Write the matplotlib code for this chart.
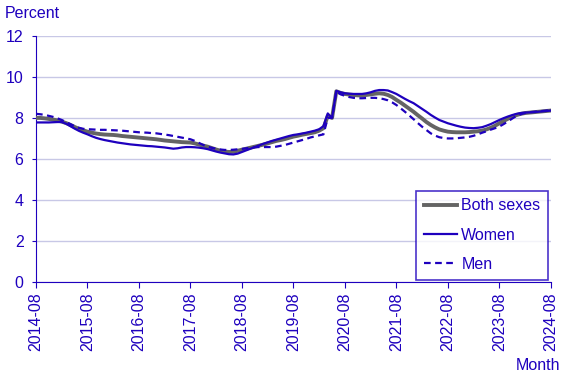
import numpy as np
import matplotlib.pyplot as plt

# monthly values 2014-08 .. 2024-08
both = [8.00, 8.00, 7.98, 7.95, 7.92, 7.88, 7.82, 7.75, 7.66, 7.56, 7.47, 7.40,
        7.33, 7.28, 7.24, 7.21, 7.19, 7.18, 7.17, 7.15, 7.12, 7.10, 7.08, 7.06,
        7.04, 7.02, 7.00, 6.98, 6.96, 6.93, 6.90, 6.88, 6.86, 6.84, 6.82, 6.81,
        6.80, 6.76, 6.70, 6.65, 6.60, 6.53, 6.46, 6.40, 6.36, 6.34, 6.35, 6.40,
        6.45, 6.50, 6.55, 6.60, 6.65, 6.70, 6.76, 6.82, 6.88, 6.92, 6.97, 7.03,
        7.09, 7.13, 7.18, 7.22, 7.26, 7.30, 7.38, 7.50, 8.10, 8.00, 9.30, 9.22,
        9.17, 9.14, 9.12, 9.10, 9.10, 9.12, 9.15, 9.18, 9.20, 9.18, 9.12, 9.02,
        8.88, 8.75, 8.60, 8.45, 8.30, 8.13, 7.97, 7.80, 7.66, 7.54, 7.44, 7.38,
        7.33, 7.31, 7.30, 7.30, 7.30, 7.31, 7.33, 7.35, 7.38, 7.44, 7.52, 7.62,
        7.74, 7.85, 7.96, 8.06, 8.14, 8.20, 8.24, 8.26, 8.28, 8.30, 8.32, 8.34,
        8.36]
women = [7.78, 7.78, 7.78, 7.78, 7.79, 7.80, 7.80, 7.72, 7.60, 7.48, 7.37, 7.28,
         7.20, 7.11, 7.03, 6.97, 6.92, 6.88, 6.84, 6.80, 6.77, 6.74, 6.71, 6.69,
         6.67, 6.65, 6.63, 6.62, 6.60, 6.58, 6.56, 6.53, 6.50, 6.52, 6.56, 6.58,
         6.58, 6.57, 6.55, 6.52, 6.48, 6.42, 6.36, 6.31, 6.27, 6.23, 6.22, 6.26,
         6.34, 6.42, 6.50, 6.58, 6.66, 6.74, 6.81, 6.88, 6.94, 7.00, 7.06, 7.12,
         7.17, 7.20, 7.24, 7.28, 7.33, 7.38, 7.45, 7.60, 8.22, 8.00, 9.32, 9.25,
         9.20, 9.18, 9.17, 9.17, 9.17, 9.20, 9.25, 9.32, 9.36, 9.36, 9.34, 9.26,
         9.17, 9.05, 8.93, 8.82, 8.72, 8.58, 8.44, 8.30, 8.15, 8.02, 7.90, 7.82,
         7.74, 7.68, 7.62, 7.57, 7.53, 7.51, 7.50, 7.52, 7.55, 7.62, 7.70, 7.80,
         7.90, 7.99, 8.07, 8.14, 8.20, 8.24, 8.26, 8.27, 8.28, 8.30, 8.32, 8.34,
         8.36]
men = [8.20, 8.18, 8.15, 8.10, 8.05, 7.98, 7.90, 7.80, 7.70, 7.60, 7.52, 7.47,
       7.45, 7.44, 7.43, 7.42, 7.42, 7.41, 7.40, 7.39, 7.38, 7.36, 7.34, 7.32,
       7.30, 7.29, 7.28, 7.26, 7.25, 7.22, 7.19, 7.16, 7.12, 7.08, 7.04, 7.00,
       6.96, 6.88, 6.78, 6.68, 6.60, 6.54, 6.50, 6.46, 6.44, 6.44, 6.45, 6.47,
       6.49, 6.52, 6.55, 6.57, 6.58, 6.58, 6.58, 6.58, 6.60, 6.64, 6.68, 6.74,
       6.80, 6.86, 6.92, 6.98, 7.05, 7.10, 7.15, 7.20, 8.00, 8.00, 9.28, 9.15,
       9.08, 9.02, 8.98, 8.96, 8.96, 8.97, 8.98, 8.98, 8.96, 8.92, 8.86, 8.76,
       8.63, 8.47, 8.30, 8.12, 7.94, 7.75, 7.57, 7.41, 7.25, 7.14, 7.06, 7.02,
       7.00, 7.00, 7.01, 7.03, 7.05, 7.08, 7.13, 7.20, 7.28, 7.35, 7.43, 7.50,
       7.58, 7.70, 7.83, 7.97, 8.10, 8.18, 8.24, 8.28, 8.30, 8.32, 8.34, 8.36,
       8.38]
tick_labels = ["2014-08", "2015-08", "2016-08", "2017-08", "2018-08", "2019-08",
               "2020-08", "2021-08", "2022-08", "2023-08", "2024-08"]

blue = "#1e00be"
plt.rcParams["font.family"] = ["Liberation Sans", "DejaVu Sans"]
fs = 11.5

fig = plt.figure(figsize=(5.67, 3.78), dpi=100)
ax = fig.add_axes([0.0635, 0.254, 0.908, 0.651])

x = np.arange(len(both))
ax.plot(x, both, color="#646464", lw=2.8, label="Both sexes", zorder=3)
ax.plot(x, women, color=blue, lw=1.6, label="Women", zorder=4)
ax.plot(x, men, color=blue, lw=1.6, ls=(0, (3, 2)), label="Men", zorder=4)

ax.set_xlim(0, 120)
ax.set_ylim(0, 12)
ax.set_yticks(range(0, 13, 2))
ax.set_xticks(np.arange(0, 121, 12))
ax.set_xticklabels(tick_labels, rotation=90)
ax.grid(axis="y", color="#c8c8e6", lw=1)
ax.set_axisbelow(True)
for s in ["top", "right"]:
    ax.spines[s].set_visible(False)
for s in ["left", "bottom"]:
    ax.spines[s].set_color(blue)
ax.tick_params(colors=blue, labelsize=fs, length=4)
ax.tick_params(axis="y", length=3, pad=6)

fig.text(0.009, 0.963, "Percent", color=blue, fontsize=fs, va="center")
fig.text(0.988, 0.032, "Month", color=blue, fontsize=fs, ha="right", va="center")

leg = ax.legend(loc="lower right", bbox_to_anchor=(1.0, 0.0), fontsize=fs,
                frameon=True, fancybox=False, labelcolor=blue,
                handlelength=2.1, handletextpad=0.25, borderpad=0.5,
                labelspacing=0.88, borderaxespad=0.15)
leg.get_frame().set_edgecolor(blue)
leg.get_frame().set_linewidth(1.2)

fig.savefig("out.png", dpi=100)
